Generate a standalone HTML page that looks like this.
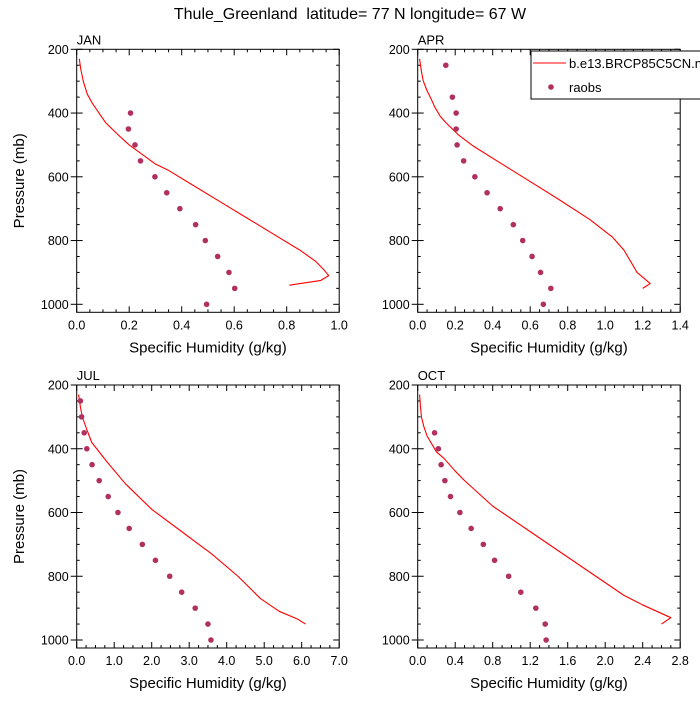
<!DOCTYPE html>
<html><head><meta charset="utf-8"><style>
body{margin:0;background:#fff;width:700px;height:700px;overflow:hidden}
svg text{font-family:"Liberation Sans",sans-serif;fill:#000;white-space:pre}
</style></head><body>
<svg id="c" width="700" height="700" viewBox="0 0 700 700">
<text x="350" y="19" text-anchor="middle" font-size="16" xml:space="preserve">Thule_Greenland  latitude= 77 N longitude= 67 W</text>
</svg>
<script>
const months = ["JAN","APR","JUL","OCT"];
const xMax = [1.0,1.4,7.0,2.8];
const xMajor = [0.2,0.2,1.0,0.4];
const xMinor = [0.05,0.05,0.25,0.1];
const xDecimals = [1,1,1,1];
const yTicks = [200,400,600,800,1000];
const modelP_JAN = [230,260,300,340,370,400,430,470,500,560,580,630,680,730,780,830,865,890,900,910,925,940];
const modelQ_JAN = [0.01,0.015,0.025,0.04,0.06,0.085,0.11,0.16,0.2,0.3,0.35,0.45,0.55,0.65,0.75,0.85,0.91,0.94,0.95,0.96,0.93,0.81];
const modelP_APR = [230,270,300,330,360,380,410,430,470,505,560,615,670,735,790,830,880,900,935,950];
const modelQ_APR = [0.01,0.02,0.03,0.05,0.075,0.09,0.12,0.15,0.22,0.3,0.45,0.6,0.75,0.92,1.04,1.1,1.15,1.17,1.24,1.2];
const modelP_JUL = [230,270,300,340,380,440,510,590,660,730,800,870,910,935,950];
const modelQ_JUL = [0.05,0.1,0.15,0.27,0.4,0.8,1.3,2.0,2.8,3.6,4.3,4.9,5.4,5.9,6.1];
const modelP_OCT = [230,270,300,330,360,410,430,470,500,580,660,740,820,860,890,930,950];
const modelQ_OCT = [0.02,0.03,0.04,0.065,0.1,0.2,0.28,0.4,0.5,0.8,1.2,1.6,2.0,2.2,2.4,2.7,2.6];
const obsP_JAN = [400,450,500,550,600,650,700,750,800,850,900,950,1000];
const obsQ_JAN = [0.205,0.197,0.222,0.243,0.298,0.343,0.393,0.453,0.49,0.537,0.58,0.602,0.495];
const obsP_APR = [250,350,400,450,500,550,600,650,700,750,800,850,900,950,1000];
const obsQ_APR = [0.15,0.185,0.205,0.205,0.21,0.245,0.305,0.37,0.44,0.51,0.56,0.61,0.655,0.71,0.67];
const obsP_JUL = [250,300,350,400,450,500,550,600,650,700,750,800,850,900,950,1000];
const obsQ_JUL = [0.1,0.13,0.2,0.27,0.41,0.6,0.84,1.1,1.4,1.75,2.1,2.48,2.8,3.16,3.5,3.58];
const obsP_OCT = [350,400,450,500,550,600,650,700,750,800,850,900,950,1000];
const obsQ_OCT = [0.18,0.22,0.25,0.29,0.35,0.45,0.57,0.7,0.82,0.97,1.1,1.26,1.36,1.37];
const modelP=[modelP_JAN,modelP_APR,modelP_JUL,modelP_OCT], modelQ=[modelQ_JAN,modelQ_APR,modelQ_JUL,modelQ_OCT];
const obsP=[obsP_JAN,obsP_APR,obsP_JUL,obsP_OCT], obsQ=[obsQ_JAN,obsQ_APR,obsQ_JUL,obsQ_OCT];

const svg=document.getElementById('c');
const NS="http://www.w3.org/2000/svg";
function mk(t,a,parent){const e=document.createElementNS(NS,t);for(const k in a)e.setAttribute(k,a[k]);(parent||svg).appendChild(e);return e;}
const origins=[[76.7,49.3],[417.7,49.3],[76.7,385],[417.7,385]];
const W=262.5, H=263;
const pxPerMb=255/800;
months.forEach((m,i)=>{
  const [ox,oy]=origins[i];
  const g=mk('g',{});
  
  
  const X=v=>ox+v/xMax[i]*W;
  const Y=p=>oy+(p-200)*pxPerMb;
  const t=mk('text',{x:ox,y:oy-5,'font-size':13},g);t.textContent=m;
  
  
  const nMin=Math.round(xMax[i]/xMinor[i]);
  for(let k=0;k<=nMin;k++){const v=k*xMinor[i];const maj=Math.abs(v/xMajor[i]-Math.round(v/xMajor[i]))<1e-6;const L=maj?6:3;
    mk('line',{x1:X(v),x2:X(v),y1:oy+H,y2:oy+H-L,stroke:'#000','stroke-width':1},g);
    mk('line',{x1:X(v),x2:X(v),y1:oy,y2:oy+L,stroke:'#000','stroke-width':1},g);
    if(maj){const tl=mk('text',{x:X(v),y:oy+H+17,'font-size':12.5,'text-anchor':'middle'},g);tl.textContent=v.toFixed(xDecimals[i]);
      
      }
  }
  for(let p=200;p<=1020;p+=50){const maj=p%200==0;const L=maj?6:3;
    mk('line',{x1:ox,x2:ox+L,y1:Y(p),y2:Y(p),stroke:'#000'},g);
    mk('line',{x1:ox+W,x2:ox+W-L,y1:Y(p),y2:Y(p),stroke:'#000'},g);
    if(maj){mk('line',{x1:ox-6,x2:ox,y1:Y(p),y2:Y(p),stroke:'#000'},g);}
  }
  yTicks.forEach(p=>{const tl=mk('text',{x:ox-8,y:Y(p)+4.5,'font-size':12.5,'text-anchor':'end'},g);tl.textContent=p;
    
    });
  const r=mk('rect',{x:ox,y:oy,width:W,height:H,fill:'none',stroke:'#000','stroke-width':1},g);
  
  
  const xt=mk('text',{x:ox+W/2,y:oy+H+40,'font-size':15,'text-anchor':'middle'},g);xt.textContent='Specific Humidity (g/kg)';
  
  
  if(i%2==0){const yt=mk('text',{x:24,y:oy+H/2,'font-size':15,'text-anchor':'middle',transform:`rotate(-90 24 ${oy+H/2})`},g);yt.textContent='Pressure (mb)';
    
    }
  const pts=modelQ[i].map((q,k)=>X(q)+','+Y(modelP[i][k])).join(' ');
  const pl=mk('polyline',{points:pts,fill:'none',stroke:'#f00','stroke-width':1.1,'stroke-linejoin':'round'},g);
  
  
  obsQ[i].forEach((q,k)=>{const c=mk('circle',{cx:X(q),cy:Y(obsP[i][k]),r:2.8,fill:'#b03060'},g);
    
    });
});
const lg=mk('g',{});


mk('rect',{x:531,y:51,width:200,height:48,fill:'#fff',stroke:'#000'},lg);
mk('line',{x1:533,x2:566,y1:63,y2:63,stroke:'#f00','stroke-width':1.1},lg);
const l1=mk('text',{x:569,y:68,'font-size':13},lg);l1.textContent='b.e13.BRCP85C5CN.ne30_g16';


mk('circle',{cx:551,cy:87,r:2.8,fill:'#b03060'},lg);
const l2=mk('text',{x:569,y:92,'font-size':13},lg);l2.textContent='raobs';


</script>
</body></html>
